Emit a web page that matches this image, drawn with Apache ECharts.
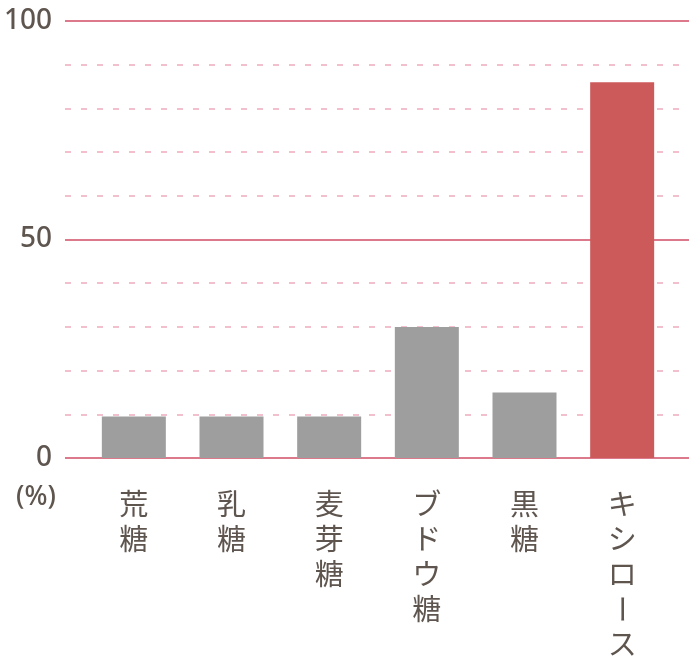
<!DOCTYPE html>
<html>
<head>
<meta charset="utf-8">
<script src="https://cdn.jsdelivr.net/npm/echarts@6/dist/echarts.min.js"></script>
<style>
html,body{margin:0;padding:0;background:#fff;}
#chart{width:689px;height:672px;}
</style>
</head>
<body>
<div id="chart"></div>
<script>
const categories = ['荒糖', '乳糖', '麦芽糖', 'ブドウ糖', '黒糖', 'キシロース'];
const values = [9.5, 9.5, 9.5, 30, 15, 86];
const highlightIndex = 5;
const yMin = 0, yMax = 100;
const unitLabel = '(%)';

const textColor = '#5f554f';
const grayBar = '#9e9e9e';
const redBar = '#cd5a5a';
const solidLine = '#dc7a8c';
const dashLine = '#f2bfcc';

const chart = echarts.init(document.getElementById('chart'), null, {renderer: 'canvas'});

const gridTop = 21, gridBottom = 214;

const option = {
  animation: false,
  grid: [
    {left: 65, right: 0, top: gridTop, bottom: gridBottom, containLabel: false, outerBoundsMode: 'none'},
    {left: 85, right: 18, top: gridTop, bottom: gridBottom, containLabel: false, outerBoundsMode: 'none'}
  ],
  xAxis: [
    {gridIndex: 0, type: 'value', min: 0, max: 1, show: false},
    {gridIndex: 1, type: 'category', data: categories, boundaryGap: true,
     axisLine: {show: false}, axisTick: {show: false}, axisLabel: {show: false}}
  ],
  yAxis: [
    {gridIndex: 0, type: 'value', position: 'left', min: yMin, max: yMax, interval: 10,
     axisLine: {show: false}, axisTick: {show: false}, axisLabel: {show: false},
     splitLine: {show: true, lineStyle: {
       color: ['rgba(0,0,0,0)', dashLine, dashLine, dashLine, dashLine],
       width: 2, type: [6, 10]}}},
    {gridIndex: 0, type: 'value', position: 'left', offset: 0, min: yMin, max: yMax, interval: 50,
     axisLine: {show: false}, axisTick: {show: false},
     axisLabel: {show: true, color: textColor, fontSize: 28, fontWeight: 500, fontFamily: '"Noto Sans"', margin: 13},
     splitLine: {show: true, lineStyle: {color: solidLine, width: 2, type: 'solid'}}},
    {gridIndex: 1, type: 'value', min: yMin, max: yMax, show: false, splitLine: {show: false}}
  ],
  graphic: [
    {type: 'text', x: 36, y: 497,
     style: {text: unitLabel, fill: textColor, fontSize: 27, fontWeight: 500, fontFamily: '"Noto Sans"',
             align: 'center', verticalAlign: 'middle'}}
  ],
  series: [
    {
      type: 'bar', xAxisIndex: 1, yAxisIndex: 2, barWidth: 64, z: 5,
      data: values.map((v, i) => ({value: v, itemStyle: {color: i === highlightIndex ? redBar : grayBar}}))
    },
    {
      type: 'custom', xAxisIndex: 1, yAxisIndex: 2, clip: false, z: 6,
      data: categories.map((c, i) => [i, 0]),
      renderItem: function (params, api) {
        const pt = api.coord([api.value(0), 0]);
        const label = categories[params.dataIndex];
        const chars = Array.from(label);
        const children = chars.map((ch, k) => {
          const isBar = ch === 'ー';
          return {
            type: 'text',
            x: pt[0],
            y: pt[1] + 46 + k * 35,
            rotation: isBar ? -Math.PI / 2 : 0,
            style: {
              text: ch,
              fill: textColor,
              fontSize: 29,
              fontFamily: '"Noto Sans CJK JP"',
              align: 'center',
              verticalAlign: 'middle'
            }
          };
        });
        return {type: 'group', children: children};
      }
    }
  ]
};
chart.setOption(option);
</script>
</body>
</html>
